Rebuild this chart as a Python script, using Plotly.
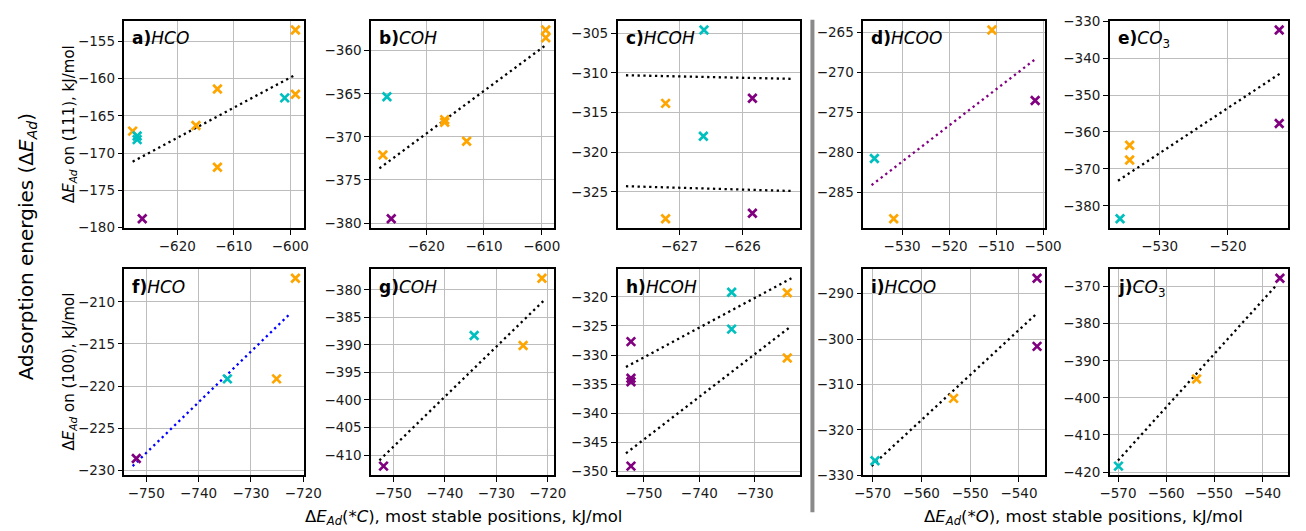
import plotly.graph_objects as go

W, H = 1306, 531
FONT = "DejaVu Sans"

# marker colour for each adsorption-site group
GROUP_COLOURS = {"o": "#ffa500", "c": "#00bfbf", "p": "#800080"}

# ---------------- (111) surface ----------------
# a) HCO vs *C
hco111_x = [-627.9, -627.1, -627.1, -626.2, -616.7, -612.9, -612.9, -601.0, -599.1, -599.1]
hco111_y = [-167.05, -167.7, -168.2, -178.8, -166.3, -161.4, -171.9, -162.6, -153.5, -162.1]
hco111_g = ["o", "c", "c", "p", "o", "o", "o", "c", "o", "o"]
hco111_fit_x = [[-627.9, -599.1]]
hco111_fit_y = [[-171.15, -159.5]]

# b) COH vs *C
coh111_x = [-627.5, -626.8, -626.05, -616.8, -616.8, -613.0, -599.3, -599.3]
coh111_y = [-372.1, -365.35, -379.5, -368.0, -368.3, -370.5, -357.6, -358.5]
coh111_g = ["o", "c", "p", "o", "o", "o", "o", "o"]
coh111_fit_x = [[-628.1, -599.4]]
coh111_fit_y = [[-373.65, -359.4]]

# c) HCOH vs *C
hcoh111_x = [-627.22, -626.61, -625.84, -626.62, -627.22, -625.84]
hcoh111_y = [-313.85, -304.6, -313.2, -318.0, -328.4, -327.7]
hcoh111_g = ["o", "c", "p", "c", "o", "p"]
hcoh111_fit_x = [[-627.85, -625.22], [-627.85, -625.22]]
hcoh111_fit_y = [[-310.3, -310.75], [-324.3, -324.9]]

# d) HCOO vs *O
hcoo111_x = [-535.9, -531.8, -510.9, -501.7]
hcoo111_y = [-280.75, -288.3, -264.67, -273.5]
hcoo111_g = ["c", "o", "o", "p"]
hcoo111_fit_x = [[-536.5, -501.3]]
hcoo111_fit_y = [[-284.1, -268.15]]

# e) CO3 vs *O
co3111_x = [-535.8, -534.4, -534.4, -512.5, -512.5]
co3111_y = [-383.5, -363.6, -367.6, -332.4, -357.7]
co3111_g = ["c", "o", "o", "p", "p"]
co3111_fit_x = [[-536.1, -512.4]]
co3111_fit_y = [[-373.2, -344.2]]

# ---------------- (100) surface ----------------
# f) HCO vs *C
hco100_x = [-751.9, -734.5, -725.1, -721.5]
hco100_y = [-228.6, -219.14, -219.14, -207.2]
hco100_g = ["p", "c", "o", "o"]
hco100_fit_x = [[-752.6, -722.6]]
hco100_fit_y = [[-229.5, -211.45]]

# g) COH vs *C
coh100_x = [-751.9, -734.3, -724.8, -721.14]
coh100_y = [-412.0, -388.3, -390.1, -377.9]
coh100_g = ["p", "c", "o", "o"]
coh100_fit_x = [[-752.7, -720.4]]
coh100_fit_y = [[-410.95, -381.6]]

# h) HCOH vs *C
hcoh100_x = [-752.3, -752.3, -752.3, -752.3, -734.2, -734.2, -724.2, -724.2]
hcoh100_y = [-327.7, -334.0, -334.6, -349.1, -319.2, -325.55, -319.3, -330.5]
hcoh100_g = ["p", "p", "p", "p", "c", "c", "o", "o"]
hcoh100_fit_x = [[-753.2, -723.45], [-753.2, -723.45]]
hcoh100_fit_y = [[-332.05, -316.8], [-346.9, -325.0]]

# i) HCOO vs *O
hcoo100_x = [-569.5, -553.4, -536.3, -536.3]
hcoo100_y = [-326.8, -313.05, -286.6, -301.6]
hcoo100_g = ["c", "o", "p", "p"]
hcoo100_fit_x = [[-570.2, -536.3]]
hcoo100_fit_y = [[-327.97, -294.3]]

# j) CO3 vs *O
co3100_x = [-569.9, -553.7, -536.4]
co3100_y = [-418.4, -394.9, -367.75]
co3100_g = ["c", "o", "p"]
co3100_fit_x = [[-570.0, -537.4]]
co3100_fit_y = [[-416.9, -370.0]]

panel_labels = ["<b>a)</b><i>HCO</i>", "<b>b)</b><i>COH</i>", "<b>c)</b><i>HCOH</i>",
                "<b>d)</b><i>HCOO</i>", "<b>e)</b><i>CO</i><sub>3</sub>",
                "<b>f)</b><i>HCO</i>", "<b>g)</b><i>COH</i>", "<b>h)</b><i>HCOH</i>",
                "<b>i)</b><i>HCOO</i>", "<b>j)</b><i>CO</i><sub>3</sub>"]

panels = [
    (hco111_x, hco111_y, hco111_g, hco111_fit_x, hco111_fit_y, "black", 10, 5),
    (coh111_x, coh111_y, coh111_g, coh111_fit_x, coh111_fit_y, "black", 10, 5),
    (hcoh111_x, hcoh111_y, hcoh111_g, hcoh111_fit_x, hcoh111_fit_y, "black", 1, 5),
    (hcoo111_x, hcoo111_y, hcoo111_g, hcoo111_fit_x, hcoo111_fit_y, "#800080", 10, 5),
    (co3111_x, co3111_y, co3111_g, co3111_fit_x, co3111_fit_y, "black", 10, 10),
    (hco100_x, hco100_y, hco100_g, hco100_fit_x, hco100_fit_y, "#0000ff", 10, 5),
    (coh100_x, coh100_y, coh100_g, coh100_fit_x, coh100_fit_y, "black", 10, 5),
    (hcoh100_x, hcoh100_y, hcoh100_g, hcoh100_fit_x, hcoh100_fit_y, "black", 10, 5),
    (hcoo100_x, hcoo100_y, hcoo100_g, hcoo100_fit_x, hcoo100_fit_y, "black", 10, 10),
    (co3100_x, co3100_y, co3100_g, co3100_fit_x, co3100_fit_y, "black", 10, 10),
]

# panel boxes in pixels
col_px = [(117, 300), (369, 556), (621, 807), (872, 1058), (1124, 1306)]
row_px = [(13, 227), (269, 482)]


def padded(values, frac=0.05):
    lo, hi = min(values), max(values)
    m = (hi - lo) * frac
    return [lo - m, hi + m]


fig = go.Figure()
layout = {}
annotations = []

for i, (xs, ys, gs, fxs, fys, fcol, dx, dy) in enumerate(panels):
    n = i + 1
    row, col = divmod(i, 5)
    xa = "x" if n == 1 else f"x{n}"
    ya = "y" if n == 1 else f"y{n}"

    for fx, fy in zip(fxs, fys):
        fig.add_trace(go.Scatter(
            x=fx, y=fy, mode="lines", xaxis=xa, yaxis=ya, showlegend=False,
            line=dict(color=fcol, width=2.3, dash="2.3px,3.5px"), hoverinfo="skip"))

    for key, colour in GROUP_COLOURS.items():
        px = [x for x, g in zip(xs, gs) if g == key]
        py = [y for y, g in zip(ys, gs) if g == key]
        if not px:
            continue
        fig.add_trace(go.Scatter(
            x=px, y=py, mode="markers", xaxis=xa, yaxis=ya, showlegend=False,
            marker=dict(symbol="x-thin", size=8.5, color=colour,
                        line=dict(color=colour, width=2.7))))

    all_x = list(xs) + [v for f in fxs for v in f]
    all_y = list(ys) + [v for f in fys for v in f]
    x0, x1 = col_px[col]
    y0, y1 = row_px[row]

    axis_common = dict(
        showline=True, mirror=True, linecolor="black", linewidth=1.6,
        ticks="outside", ticklen=5, tickwidth=1.3, tickcolor="black",
        showgrid=True, gridcolor="#bdbdbd", gridwidth=1.1, zeroline=False,
        tickfont=dict(family=FONT, size=13.5, color="#1a1a1a"),
    )
    layout["xaxis" if n == 1 else f"xaxis{n}"] = dict(
        axis_common, domain=[x0 / W, x1 / W], range=padded(all_x), dtick=dx,
        anchor=ya)
    layout["yaxis" if n == 1 else f"yaxis{n}"] = dict(
        axis_common, domain=[1 - y1 / H, 1 - y0 / H], range=padded(all_y), dtick=dy,
        anchor=xa)

    annotations.append(dict(
        text=panel_labels[i], xref="paper", yref="paper",
        x=(x0 + 6) / W, y=1 - (y0 + 6) / H, xanchor="left", yanchor="top",
        showarrow=False, font=dict(family=FONT, size=17, color="black")))

# axis titles
annotations += [
    dict(text="Adsorption energies (Δ<i>E</i><sub><i>Ad</i></sub>)", x=17 / W, y=1 - 246 / H,
         textangle=-90, font=dict(family=FONT, size=20, color="black")),
    dict(text="Δ<i>E</i><sub><i>Ad</i></sub> on (111), kJ/mol", x=61 / W, y=1 - 120 / H,
         textangle=-90, font=dict(family=FONT, size=15, color="black")),
    dict(text="Δ<i>E</i><sub><i>Ad</i></sub> on (100), kJ/mol", x=61 / W, y=1 - 375 / H,
         textangle=-90, font=dict(family=FONT, size=15, color="black")),
    dict(text="Δ<i>E</i><sub><i>Ad</i></sub>(*<i>C</i>), most stable positions, kJ/mol",
         x=463 / W, y=1 - 525 / H, font=dict(family=FONT, size=16.5, color="black")),
    dict(text="Δ<i>E</i><sub><i>Ad</i></sub>(*<i>O</i>), most stable positions, kJ/mol",
         x=1097 / W, y=1 - 525 / H, font=dict(family=FONT, size=16.5, color="black")),
]
for a in annotations[-5:]:
    a.update(xref="paper", yref="paper", showarrow=False, xanchor="center", yanchor="middle")

fig.update_layout(
    width=W, height=H, autosize=False,
    margin=dict(l=0, r=0, t=0, b=0),
    paper_bgcolor="white", plot_bgcolor="white",
    annotations=annotations,
    shapes=[dict(type="line", xref="paper", yref="paper",
                 x0=820 / W, x1=820 / W, y0=1 - 12 / H, y1=1 - 520 / H,
                 line=dict(color="#8a8a8a", width=4))],
    **layout,
)

fig.write_html("out.html")
